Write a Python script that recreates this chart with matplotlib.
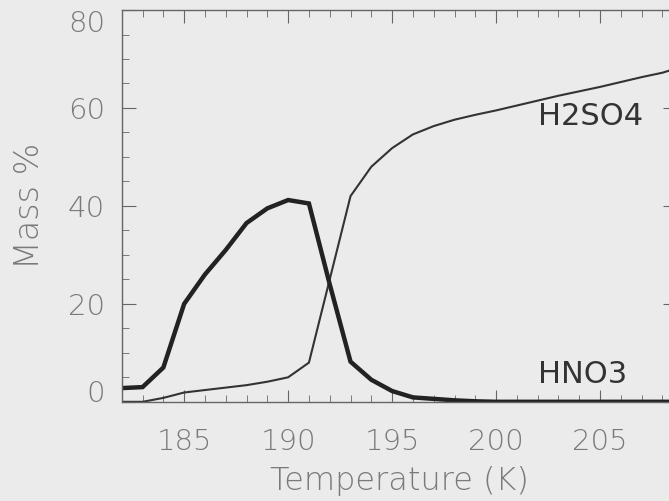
import numpy as np
import matplotlib.pyplot as plt
from matplotlib.ticker import MultipleLocator

temp = [182, 183, 184, 185, 186, 187, 188, 189, 190, 191, 192, 193, 194, 195,
        196, 197, 198, 199, 200, 201, 202, 203, 204, 205, 206, 207, 208, 209]
hno3 = [2.8, 3.0, 7.0, 20.0, 26.0, 31.0, 36.5, 39.5, 41.2, 40.5, 24.0, 8.2,
        4.5, 2.2, 0.9, 0.6, 0.3, 0.1, 0.0, 0.0, 0.0, 0.0, 0.0, 0.0, 0.0, 0.0,
        0.0, 0.0]
h2so4 = [0.0, 0.0, 0.8, 1.9, 2.4, 2.9, 3.4, 4.1, 5.0, 8.0, 25.0, 42.0, 48.0,
         51.8, 54.6, 56.3, 57.6, 58.6, 59.5, 60.5, 61.5, 62.5, 63.4, 64.3,
         65.3, 66.3, 67.2, 68.5]

bg = "#ebebeb"
grey = "#7a7a7a"
fig = plt.figure(figsize=(6.69, 5.01), dpi=100, facecolor=bg)
ax = fig.add_axes([0.182, 0.198, 0.83, 0.782], facecolor=bg)

ax.plot(temp, h2so4, color="#333333", lw=1.5, solid_joinstyle="miter")
ax.plot(temp, hno3, color="#222222", lw=3.2, solid_joinstyle="miter")

ax.text(202.0, 58.2, "H2SO4", fontsize=22, color="#333333", va="center")
ax.text(202.0, 5.5, "HNO3", fontsize=22, color="#333333", va="center")

ax.set_xlim(182, 208.7)
ax.set_ylim(0, 80)
ax.xaxis.set_major_locator(MultipleLocator(5))
ax.xaxis.set_minor_locator(MultipleLocator(1))
ax.yaxis.set_major_locator(MultipleLocator(20))
ax.yaxis.set_minor_locator(MultipleLocator(5))

for s in ax.spines.values():
    s.set_color("#666666")
    s.set_linewidth(1.0)

ax.tick_params(which="both", direction="in", top=True, right=True,
               colors="#666666", labelcolor=grey, labelsize=21)
ax.tick_params(axis="x", which="major", length=9, pad=19)
ax.tick_params(axis="y", which="major", length=10, pad=12)
ax.tick_params(which="minor", length=5)

fig.canvas.draw()
for lab in ax.get_xticklabels() + ax.get_yticklabels():
    lab.set_fontweight("light")
# first and last y labels sit inside the axis range
for tick in ax.yaxis.get_major_ticks():
    if abs(tick.get_loc() - 0) < 1e-6:
        tick.label1.set_va("baseline")
    elif abs(tick.get_loc() - 80) < 1e-6:
        tick.label1.set_va("top")

ax.set_xlabel("Temperature (K)", fontsize=23, color=grey, labelpad=7,
              fontweight="light")
ax.set_ylabel("Mass %", fontsize=24, color=grey, labelpad=16,
              fontweight="light")

fig.savefig("out.png", dpi=100, facecolor=bg)
